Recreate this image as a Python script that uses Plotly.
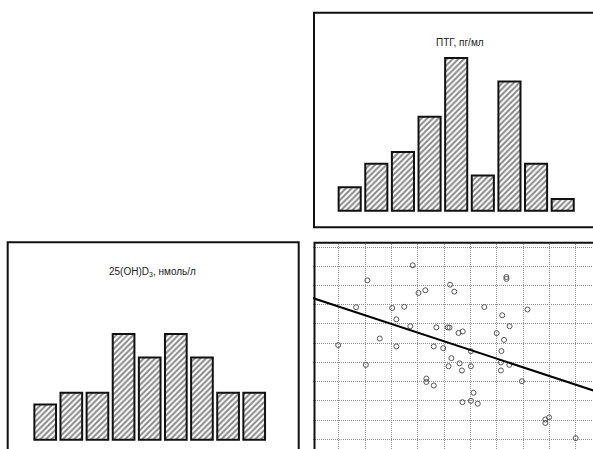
import plotly.graph_objects as go

# ---- data ----
ptg_bins = [1, 2, 3, 4, 5, 6, 7, 8, 9]
ptg_counts = [2, 4, 5, 8, 13, 3, 11, 4, 1]

vitd_bins = [1, 2, 3, 4, 5, 6, 7, 8, 9]
vitd_counts = [3, 4, 4, 9, 7, 9, 7, 4, 4]

# scatter (grid units: one unit = one grid cell)
scatter_x = [2.81, 1.09, 4.23, 4.39, 3.03, 3.29, 0.66, 2.03, 2.49, 2.19,
             2.72, 3.71, 4.14, 4.21, 4.55, 4.71, -0.02, 1.56, 2.19, 3.61,
             3.97, 4.28, 1.03, 4.17, 3.33, 3.33, 3.61, 6.37, 6.37, 5.53,
             7.17, 6.21, 6.49, 6.00, 6.28, 6.18, 5.02, 4.59, 4.68, 5.02,
             6.16, 6.48, 6.16, 6.96, 5.12, 4.70, 5.02, 5.28, 7.85, 7.99,
             7.85, 9.00]
scatter_y = [9.05, 8.27, 8.04, 7.68, 7.61, 7.75, 6.87, 6.83, 6.89, 6.24,
             5.88, 5.82, 5.82, 5.81, 5.53, 5.61, 4.90, 5.24, 4.83, 4.83,
             4.74, 4.22, 3.87, 3.80, 3.16, 2.98, 2.80, 8.44, 8.34, 6.88,
             6.75, 6.45, 5.88, 5.52, 5.17, 4.59, 4.58, 3.95, 3.58, 3.80,
             4.00, 3.87, 3.58, 3.02, 2.42, 1.93, 2.00, 1.85, 1.03, 1.14,
             0.85, 0.06]

trend_intercept = 6.90
trend_slope = -0.451
trend_x = [-1.5, 10.5]

ptg_title = "ПТГ, пг/мл"
vitd_title = "25(OH)D<sub>3</sub>, нмоль/л"

W, H = 593, 449
FONT = "Liberation Sans, Arial, sans-serif"


def px(x):
    return x / W


def py(y):
    return 1 - y / H


bar_style = dict(
    color="white",
    line=dict(color="#111111", width=2),
    pattern=dict(shape="/", fgcolor="#111111", bgcolor="white", size=4, solidity=0.5),
)

fig = go.Figure()

fig.add_trace(go.Bar(x=ptg_bins, y=ptg_counts, width=0.83, marker=bar_style,
                     xaxis="x", yaxis="y", showlegend=False, hoverinfo="skip"))
fig.add_trace(go.Bar(x=vitd_bins, y=vitd_counts, width=0.83, marker=bar_style,
                     xaxis="x2", yaxis="y2", showlegend=False, hoverinfo="skip"))
fig.add_trace(go.Scatter(x=scatter_x, y=scatter_y, mode="markers",
                         marker=dict(symbol="circle-open", size=5,
                                     color="#555555", line=dict(width=1)),
                         xaxis="x3", yaxis="y3", showlegend=False))
trend_y = [trend_intercept + trend_slope * v for v in trend_x]
fig.add_trace(go.Scatter(x=trend_x, y=trend_y, mode="lines",
                         line=dict(color="black", width=2),
                         xaxis="x3", yaxis="y3", showlegend=False))

hidden = dict(showticklabels=False, ticks="", zeroline=False, showline=False)
grid = dict(showgrid=True, gridcolor="#8f8f8f", griddash="1px,1px", gridwidth=1,
            dtick=1, tick0=0)

fig.update_layout(
    width=W, height=H,
    margin=dict(l=0, r=0, t=0, b=0),
    paper_bgcolor="white", plot_bgcolor="rgba(0,0,0,0)",
    font=dict(family=FONT, size=10, color="#222222"),
    xaxis=dict(domain=[px(313), 1], range=[-0.378, 10.138], showgrid=False, **hidden),
    yaxis=dict(domain=[py(228), py(12)], range=[-1.472, 16.91], showgrid=False, **hidden),
    xaxis2=dict(domain=[0, px(300)], range=[-0.730, 10.753], showgrid=False,
                anchor="y2", **hidden),
    yaxis2=dict(domain=[0, py(242)], range=[-0.791, 16.83], showgrid=False, anchor="x2", **hidden),
    xaxis3=dict(domain=[px(313), 1], range=[-0.976, 9.658], anchor="y3", **grid, **hidden),
    yaxis3=dict(domain=[0, py(242)], range=[-0.504, 10.26], anchor="x3", **grid, **hidden),
    showlegend=False,
)

# panel frames
frame = dict(type="rect", xref="paper", yref="paper",
             line=dict(color="#111111", width=2), fillcolor="rgba(0,0,0,0)", layer="above")
fig.add_shape(x0=px(314), x1=px(605), y0=py(227.2), y1=py(12.7), **frame)
fig.add_shape(x0=px(7.7), x1=px(298.7), y0=py(470), y1=py(242.3), **frame)
fig.add_shape(x0=px(314.5), x1=px(605), y0=py(470), y1=py(242.8), **frame)

fig.add_annotation(text=ptg_title, x=px(460), y=py(42.5), xref="paper", yref="paper",
                   showarrow=False, xanchor="center", yanchor="middle",
                   font=dict(family=FONT, size=10, color="#222222"))
fig.add_annotation(text=vitd_title, x=px(152.5), y=py(271.5), xref="paper", yref="paper",
                   showarrow=False, xanchor="center", yanchor="middle",
                   font=dict(family=FONT, size=10, color="#222222"))

fig.write_html(
    "out.html",
    config={"displayModeBar": False},
    post_script=(
        "document.documentElement.style.overflow='hidden';"
        "document.body.style.margin='0';"
        "document.body.style.overflow='hidden';"
    ),
)
